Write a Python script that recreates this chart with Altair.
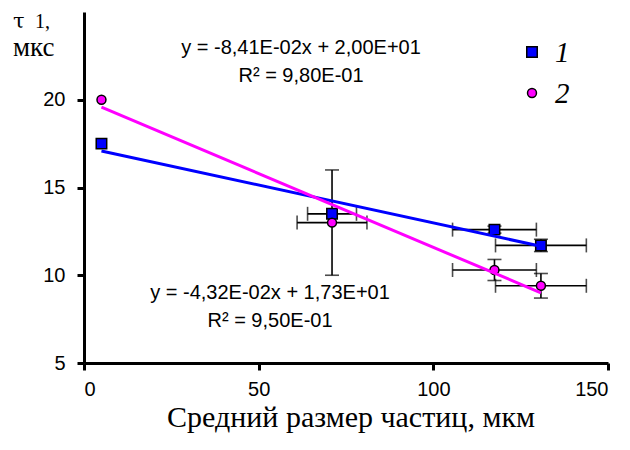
import altair as alt
import pandas as pd

# ---- data ----
series = ["1", "2"]
colors = ["#0000FF", "#FF00FF"]
shapes = ["square", "circle"]
marker_sizes = [110, 80]

x_vals = [[5, 71, 117.5, 130.8], [5, 71, 117.5, 130.8]]
y_vals = [[17.5, 13.5, 12.6, 11.7], [20.0, 13.0, 10.3, 9.4]]
x_errs = [[0, 7, 12, 13], [0, 10, 12, 13]]
y_errs = [[0, 0, 0.2, 0.35], [0, 3, 0.6, 0.7]]

slopes = [-0.0432, -0.0841]
intercepts = [17.3, 20.0]
eq_lines = [["y = -4,32E-02x + 1,73E+01", "R² = 9,50E-01"],
            ["y = -8,41E-02x + 2,00E+01", "R² = 9,80E-01"]]

x_ticks = [0, 50, 100, 150]
y_ticks = [5, 10, 15, 20]
x_title = "Средний размер частиц, мкм"

# ---- tables ----
rows = []
for s, xs, ys, xe, ye in zip(series, x_vals, y_vals, x_errs, y_errs):
    for x, y, a, b in zip(xs, ys, xe, ye):
        rows.append(dict(s=s, x=x, y=y, xlo=x - a, xhi=x + a, ylo=y - b, yhi=y + b, xe=a, ye=b))
pts = pd.DataFrame(rows)
herr = pts[pts.xe > 0]
verr = pts[pts.ye > 0]

trend_rows = []
for s, xs, m, c in zip(series, x_vals, slopes, intercepts):
    for x in (min(xs), max(xs)):
        trend_rows.append(dict(s=s, x=x, y=m * x + c))
trend = pd.DataFrame(trend_rows)

W, H = 524, 351
xs_scale = alt.Scale(domain=[0, 150], nice=False, zero=False)
ys_scale = alt.Scale(domain=[5, 25], nice=False, zero=False)

X_axis = alt.Axis(values=x_ticks, title=None, grid=False, format="d",
                  labelFont="Liberation Sans", labelFontSize=20, labelPadding=9)
Y_axis = alt.Axis(values=y_ticks, title=None, grid=False, format="d",
                  labelFont="Liberation Sans", labelFontSize=20, labelPadding=12)

ERR_W = 1.6

h_rule = alt.Chart(herr).mark_rule(color="black", strokeWidth=ERR_W).encode(
    x=alt.X("xlo:Q", scale=xs_scale, axis=X_axis), x2="xhi:Q",
    y=alt.Y("y:Q", scale=ys_scale, axis=Y_axis))
h_cap_lo = alt.Chart(herr).mark_tick(color="black", orient="vertical", size=14, thickness=ERR_W).encode(
    x=alt.X("xlo:Q", scale=xs_scale), y=alt.Y("y:Q", scale=ys_scale))
h_cap_hi = alt.Chart(herr).mark_tick(color="black", orient="vertical", size=14, thickness=ERR_W).encode(
    x=alt.X("xhi:Q", scale=xs_scale), y=alt.Y("y:Q", scale=ys_scale))
v_rule = alt.Chart(verr).mark_rule(color="black", strokeWidth=ERR_W).encode(
    x=alt.X("x:Q", scale=xs_scale), y=alt.Y("ylo:Q", scale=ys_scale), y2="yhi:Q")
v_cap_lo = alt.Chart(verr).mark_tick(color="black", orient="horizontal", size=14, thickness=ERR_W).encode(
    x=alt.X("x:Q", scale=xs_scale), y=alt.Y("ylo:Q", scale=ys_scale))
v_cap_hi = alt.Chart(verr).mark_tick(color="black", orient="horizontal", size=14, thickness=ERR_W).encode(
    x=alt.X("x:Q", scale=xs_scale), y=alt.Y("yhi:Q", scale=ys_scale))

layers = [h_rule, h_cap_lo, h_cap_hi, v_rule, v_cap_lo, v_cap_hi]

for i, s in enumerate(series):
    sub = pts[pts.s == s]
    layers.append(alt.Chart(sub).mark_point(
        shape=shapes[i], filled=True, fill=colors[i], stroke="black", strokeWidth=1.5,
        size=marker_sizes[i], opacity=1).encode(
        x=alt.X("x:Q", scale=xs_scale), y=alt.Y("y:Q", scale=ys_scale)))

for i, s in enumerate(series):
    layers.append(alt.Chart(trend[trend.s == s]).mark_line(
        color=colors[i], strokeWidth=3).encode(
        x=alt.X("x:Q", scale=xs_scale), y=alt.Y("y:Q", scale=ys_scale)))

# equations (regression labels)
eq_pos = [(186, 281), (217, 36)]
for i in range(len(series)):
    for j, line in enumerate(eq_lines[i]):
        layers.append(alt.Chart(pd.DataFrame({"t": [line]})).mark_text(
            font="Liberation Sans", fontSize=20, color="black", align="center",
            baseline="middle").encode(
            x=alt.value(eq_pos[i][0]), y=alt.value(eq_pos[i][1] + 28 * j), text="t:N"))

# legend
for i, s in enumerate(series):
    d = pd.DataFrame({"t": [s]})
    layers.append(alt.Chart(d).mark_point(
        shape=shapes[i], filled=True, fill=colors[i], stroke="black", strokeWidth=1.5,
        size=marker_sizes[i], opacity=1).encode(
        x=alt.value(448), y=alt.value(40 + 41 * i)))
    layers.append(alt.Chart(d).mark_text(
        font="Liberation Serif", fontSize=29, fontStyle="italic", color="black",
        align="left", baseline="middle").encode(
        x=alt.value(471), y=alt.value(41 + 41 * i), text="t:N"))

# y title
layers.append(alt.Chart(pd.DataFrame({"t": ["τ"]})).mark_text(
    font="DejaVu Serif", fontSize=21, color="black", align="left", baseline="alphabetic").encode(
    x=alt.value(-71), y=alt.value(16), text="t:N"))
layers.append(alt.Chart(pd.DataFrame({"t": ["1,"]})).mark_text(
    font="Liberation Serif", fontSize=20, color="black", align="left", baseline="alphabetic").encode(
    x=alt.value(-49), y=alt.value(16), text="t:N"))
layers.append(alt.Chart(pd.DataFrame({"t": ["мкс"]})).mark_text(
    font="Liberation Serif", fontSize=27, color="black", align="left", baseline="alphabetic").encode(
    x=alt.value(-71), y=alt.value(44), text="t:N"))

# x title
layers.append(alt.Chart(pd.DataFrame({"t": [x_title]})).mark_text(
    font="Liberation Serif", fontSize=30, color="black", align="center", baseline="alphabetic").encode(
    x=alt.value(267), y=alt.value(415), text="t:N"))

chart = alt.layer(*layers).properties(
    width=W, height=H, autosize=alt.AutoSizeParams(type="none"),
    padding={"left": 76, "top": 4, "right": 14, "bottom": 79},
).configure_view(strokeWidth=0).configure_axis(
    domainColor="black", domainWidth=3, tickColor="black", tickWidth=3, tickSize=7,
    labelColor="black")

chart.save("out.html", embed_options={"renderer": "svg", "actions": False})
